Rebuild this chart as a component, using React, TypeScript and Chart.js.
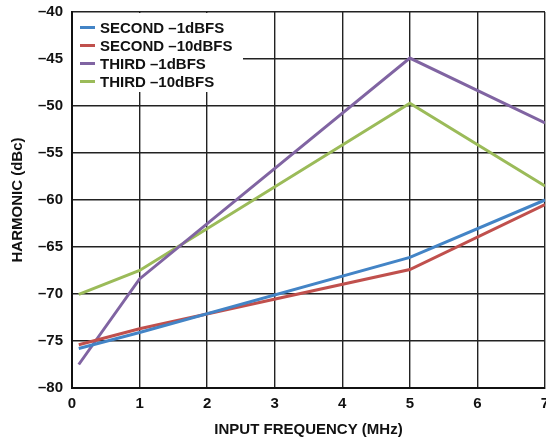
import React, { useEffect, useRef } from 'react';
import { Chart, registerables } from 'chart.js';

Chart.register(...registerables);

// Input frequency (MHz) where each curve was measured
const frequencies = [0.1, 1, 5, 7];

// Harmonic level (dBc)
const secondMinus1 = [-75.8, -74.1, -66.1, -60.0];
const secondMinus10 = [-75.4, -73.7, -67.4, -60.5];
const thirdMinus1 = [-77.5, -68.4, -44.9, -51.8];
const thirdMinus10 = [-70.05, -67.5, -49.7, -58.5];

const seriesLabels = ['SECOND –1dBFS', 'SECOND –10dBFS', 'THIRD –1dBFS', 'THIRD –10dBFS'];
const seriesColors = ['#4384c6', '#c0504d', '#8064a2', '#9bbb59'];

const FONT = '"Liberation Sans", Arial, sans-serif';

const toPoints = (ys: number[]) => ys.map((y, i) => ({ x: frequencies[i], y }));

// legend drawn inside the plot, on a white box over the grid
const insideLegend = {
    id: 'insideLegend',
    beforeDatasetsDraw(chart: any) {
        const { ctx, chartArea } = chart;
        const x0 = chartArea.left;
        const y0 = chartArea.top;
        ctx.save();
        ctx.fillStyle = '#fff';
        ctx.fillRect(x0 + 1, y0 + 1, 170, 79);
        ctx.font = `bold 15px ${FONT}`;
        ctx.textBaseline = 'middle';
        chart.data.datasets.forEach((ds: any, i: number) => {
            const y = y0 + 15.5 + i * 18;
            ctx.strokeStyle = ds.borderColor;
            ctx.lineWidth = 3;
            ctx.beginPath();
            ctx.moveTo(x0 + 8, y);
            ctx.lineTo(x0 + 23, y);
            ctx.stroke();
            ctx.fillStyle = '#111';
            ctx.fillText(ds.label, x0 + 28, y + 1);
        });
        ctx.restore();
    },
};

const HarmonicChart: React.FC = () => {
    const canvasRef = useRef<HTMLCanvasElement>(null);

    useEffect(() => {
        if (!canvasRef.current) return;
        const data = [secondMinus1, secondMinus10, thirdMinus1, thirdMinus10];

        const chart = new Chart(canvasRef.current, {
            type: 'line',
            data: {
                datasets: data.map((ys, i) => ({
                    label: seriesLabels[i],
                    data: toPoints(ys),
                    borderColor: seriesColors[i],
                    backgroundColor: seriesColors[i],
                    borderWidth: 3,
                    pointRadius: 0,
                    tension: 0,
                    fill: false,
                })),
            },
            options: {
                responsive: true,
                maintainAspectRatio: false,
                animation: false,
                layout: { padding: { left: 0, right: 1, top: 12, bottom: 0 } },
                plugins: {
                    legend: { display: false },
                    tooltip: { enabled: false },
                },
                scales: {
                    x: {
                        type: 'linear',
                        min: 0,
                        max: 7,
                        ticks: {
                            stepSize: 1,
                            padding: 7,
                            color: '#111',
                            font: { family: FONT, size: 15, weight: 'bold' },
                        },
                        grid: { color: '#222', lineWidth: 1.4, drawTicks: false },
                        border: { color: '#111', width: 2 },
                        title: {
                            display: true,
                            text: 'INPUT FREQUENCY (MHz)',
                            color: '#111',
                            font: { family: FONT, size: 15, weight: 'bold' },
                            padding: { top: 0, bottom: 5 },
                        },
                        afterFit: (s: any) => {
                            s.height = 56;
                            s.paddingRight = 0;
                        },
                    },
                    y: {
                        min: -80,
                        max: -40,
                        ticks: {
                            stepSize: 5,
                            padding: 9,
                            color: '#111',
                            font: { family: FONT, size: 15, weight: 'bold' },
                            callback: (v: any) => (v < 0 ? '–' + Math.abs(v) : String(v)),
                        },
                        grid: { color: '#222', lineWidth: 1.4, drawTicks: false },
                        border: { color: '#111', width: 2 },
                        title: {
                            display: true,
                            text: 'HARMONIC (dBc)',
                            color: '#111',
                            font: { family: FONT, size: 15, weight: 'bold' },
                            padding: { top: 9, bottom: 0 },
                        },
                        afterFit: (s: any) => {
                            s.width = 72;
                            s.paddingTop = 0;
                            s.paddingBottom = 0;
                        },
                    },
                },
            },
            plugins: [insideLegend],
        });

        return () => chart.destroy();
    }, []);

    return (
        <div style={{ position: 'fixed', left: 0, top: 0, width: 546, height: 444, background: '#fff' }}>
            <canvas ref={canvasRef}></canvas>
        </div>
    );
};

export default function App() {
    return <HarmonicChart />;
}
